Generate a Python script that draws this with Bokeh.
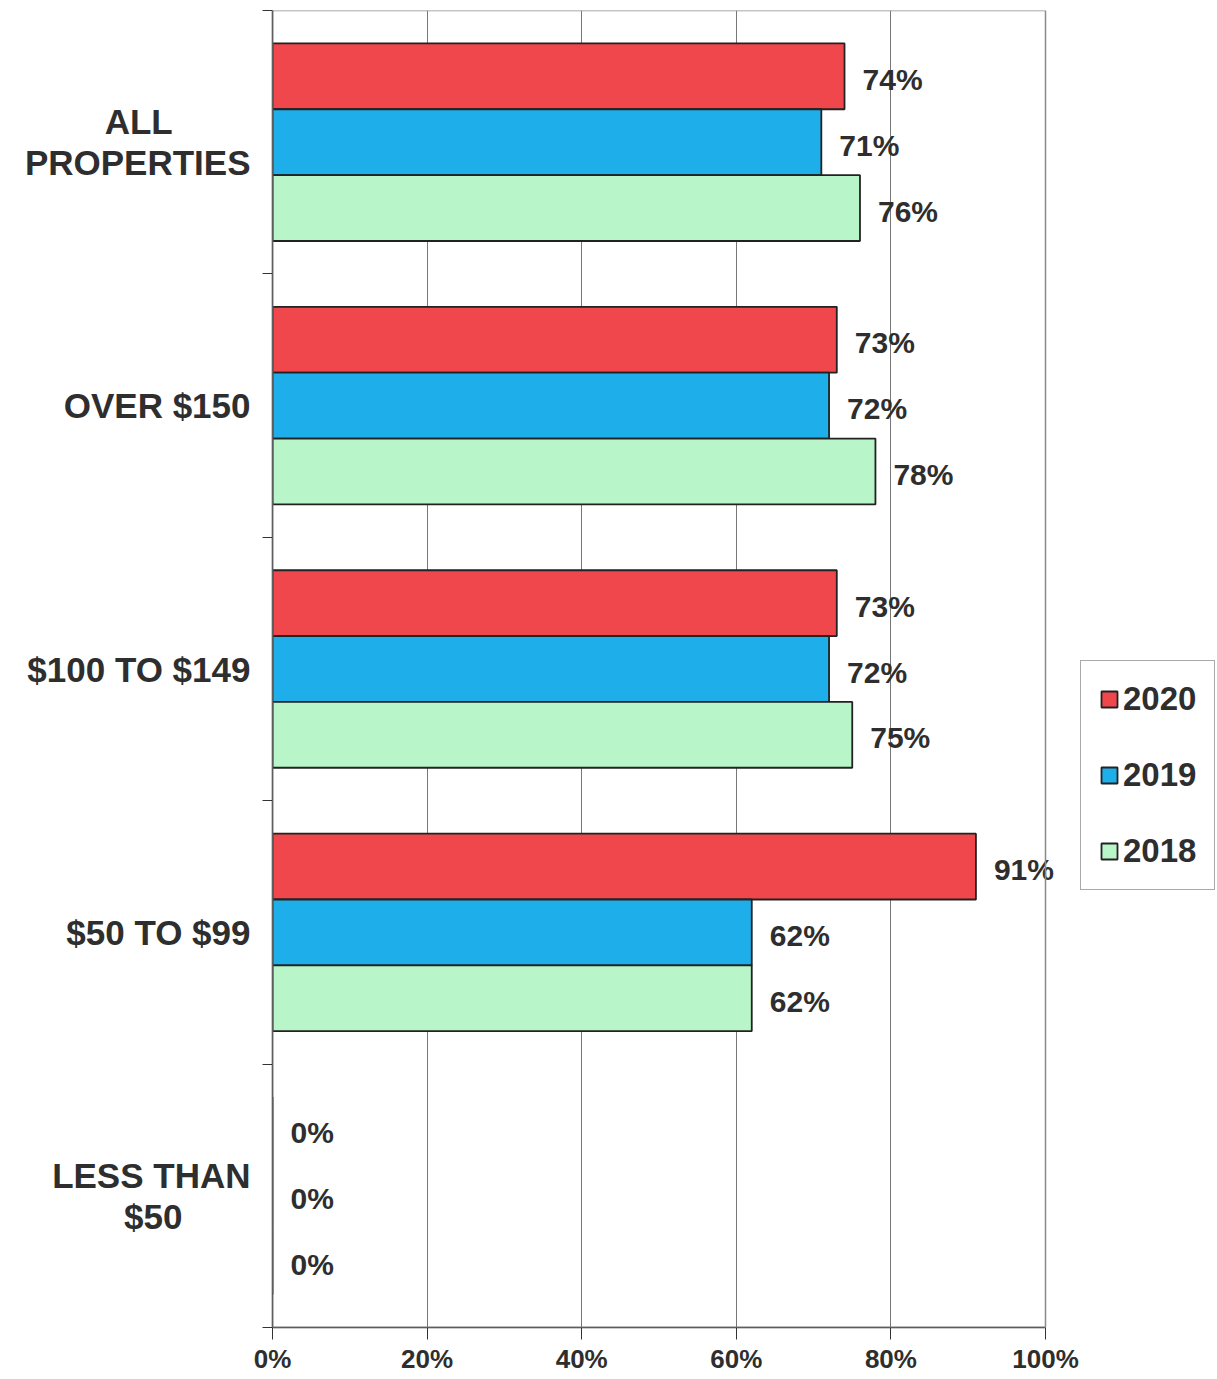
from bokeh.plotting import figure
from bokeh.models import (ColumnDataSource, Range1d, FixedTicker, PrintfTickFormatter,
                          Legend, LegendItem, BoxAnnotation)
from bokeh.core.properties import value
from bokeh.embed import file_html
from bokeh.resources import INLINE

NB = "\u00a0"
categories = ["ALL" + NB * 8 + "\nPROPERTIES", "OVER $150", "$100 TO $149", "$50 TO $99",
              "LESS THAN\n$50" + NB * 7]
years = ["2020", "2019", "2018"]
vals_2020 = [74, 73, 73, 91, 0]
vals_2019 = [71, 72, 72, 62, 0]
vals_2018 = [76, 78, 75, 62, 0]
x_ticks = [0, 20, 40, 60, 80, 100]

colors = {"2020": "#f0474c", "2019": "#1eaeea", "2018": "#b8f5c9"}
series = {"2020": vals_2020, "2019": vals_2019, "2018": vals_2018}
offsets = {"2020": 0.25, "2019": 0.0, "2018": -0.25}

n = len(categories)
centers = [n - i - 0.5 for i in range(n)]

FONT = "Liberation Sans"
W, LEFT = 1215, 272
PLOT_W = 773  # pixel width of the 0..100% axis
x_end = x_ticks[-1] * (W - LEFT) / PLOT_W

p = figure(width=W, height=1376, output_backend="svg", toolbar_location=None,
           x_range=Range1d(0, x_end), y_range=Range1d(0, n),
           min_border_left=LEFT, min_border_top=10, min_border_bottom=46, min_border_right=0)
p.background_fill_color = "white"
p.border_fill_color = "white"
p.outline_line_color = None

# plot-area border limited to 0..100%
p.add_layout(BoxAnnotation(left=x_ticks[0], right=x_ticks[-1], bottom=0, top=n,
                           fill_alpha=0, line_color="#8a8a8a", line_alpha=1.0,
                           line_width=1.5))

renderers = {}
for yr in years:
    vals = series[yr]
    src = ColumnDataSource(dict(
        y=[c + offsets[yr] for c in centers],
        right=vals,
        label=[f"{v}%" for v in vals],
    ))
    r = p.hbar(y="y", left=0, right="right", height=0.25, source=src,
               fill_color=colors[yr], line_color="#222222", line_width=1.8)
    renderers[yr] = r
    p.text(x="right", y="y", text="label", source=src, x_offset=18, y_offset=3,
           text_font=value(FONT), text_font_style="bold", text_font_size="30px",
           text_color="#2e2e2e", text_baseline="middle", text_align="left")

# x axis
p.xaxis.ticker = FixedTicker(ticks=x_ticks)
p.xaxis.bounds = (x_ticks[0], x_ticks[-1])
p.xaxis.formatter = PrintfTickFormatter(format="%d%%")
p.xaxis.major_label_text_font = FONT
p.xaxis.major_label_text_font_style = "bold"
p.xaxis.major_label_text_font_size = "26px"
p.xaxis.major_label_text_color = "#2e2e2e"
p.xaxis.major_tick_out = 12
p.xaxis.major_tick_in = 0
p.xaxis.minor_tick_line_color = None
p.xaxis.axis_line_color = "#333333"
p.xaxis.axis_line_width = 1.5
p.xaxis.major_tick_line_color = "#333333"
p.xaxis.major_label_standoff = 4

# y axis
p.yaxis.ticker = FixedTicker(ticks=centers, minor_ticks=list(range(n + 1)))
p.yaxis.major_label_overrides = {c: cat for c, cat in zip(centers, categories)}
p.yaxis.major_label_text_font = FONT
p.yaxis.major_label_text_font_style = "bold"
p.yaxis.major_label_text_font_size = "35px"
p.yaxis.major_label_text_line_height = 1.05
p.yaxis.major_label_text_color = "#2e2e2e"
p.yaxis.major_tick_line_color = None
p.yaxis.minor_tick_line_color = "#333333"
p.yaxis.minor_tick_out = 10
p.yaxis.minor_tick_in = 0
p.yaxis.axis_line_color = "#333333"
p.yaxis.axis_line_width = 1.5
p.yaxis.major_label_standoff = 12

p.xgrid.ticker = FixedTicker(ticks=x_ticks[1:-1])
p.xgrid.grid_line_color = "#777777"
p.xgrid.grid_line_width = 1
p.ygrid.grid_line_color = None

legend = Legend(items=[LegendItem(label=yr, renderers=[renderers[yr]]) for yr in years],
                location=(808, 437))
legend.label_text_font = FONT
legend.label_text_font_style = "bold"
legend.label_text_font_size = "33px"
legend.label_text_color = "#2e2e2e"
legend.glyph_width = 20
legend.glyph_height = 20
legend.label_height = 40
legend.spacing = 36
legend.padding = 18
legend.label_standoff = 4
legend.border_line_color = "#555555"
legend.border_line_width = 1.5
legend.background_fill_color = "white"
p.add_layout(legend, "center")

open("out.html", "w").write(file_html(p, INLINE))
